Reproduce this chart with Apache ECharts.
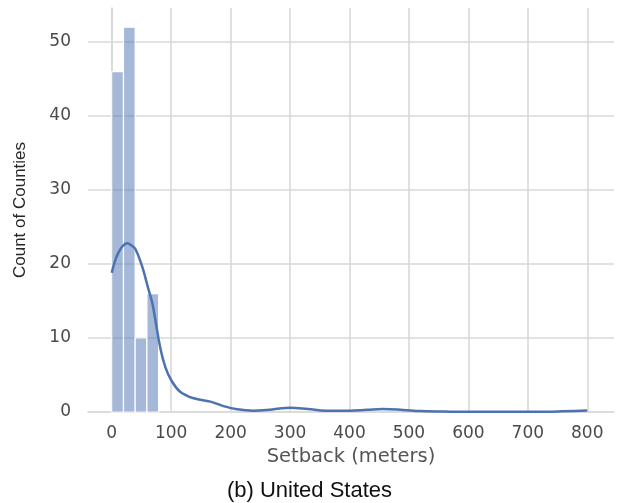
<!DOCTYPE html>
<html>
<head>
<meta charset="utf-8">
<script src="https://cdn.jsdelivr.net/npm/echarts@6/dist/echarts.min.js"></script>
<style>html,body{margin:0;padding:0;background:#fff;}#c{width:619px;height:503px;}</style>
</head>
<body>
<div id="c"></div>
<script>
// Histogram bins (meters) and counts
const binEdges = [0, 19.7, 39.4, 59.1, 78.8];
const binCounts = [46, 52, 10, 16];
// KDE curve points [setback, count]
const kdeX = [0, 5, 11, 18, 26, 33, 40, 51, 62, 68, 73, 82, 90, 100, 115, 138, 166, 188, 211, 238, 270, 300, 330, 360, 400, 430, 456, 490, 520, 570, 620, 680, 740, 780, 800];
const kdeY = [18.8, 20.3, 21.5, 22.4, 22.8, 22.5, 22.0, 19.7, 16.5, 14.8, 12.6, 8.5, 6.1, 4.3, 2.75, 1.85, 1.4, 0.8, 0.37, 0.18, 0.35, 0.58, 0.4, 0.17, 0.18, 0.3, 0.4, 0.28, 0.12, 0.05, 0.03, 0.03, 0.05, 0.12, 0.2];
const xTicks = [0, 100, 200, 300, 400, 500, 600, 700, 800];
const yTicks = [0, 10, 20, 30, 40, 50];

const histData = binCounts.map((c, i) => [binEdges[i], binEdges[i + 1], c]);
const kdeData = kdeX.map((x, i) => [x, kdeY[i]]);

const chart = echarts.init(document.getElementById('c'), null, {renderer: 'canvas'});
const gridColor = '#d9d9d9';
chart.setOption({
  animation: false,
  backgroundColor: '#ffffff',
  title: {
    text: '(b) United States',
    left: 'center',
    top: 475,
    textStyle: {fontFamily: 'Liberation Sans', fontSize: 22, fontWeight: 'normal', color: '#111'}
  },
  grid: {left: 88, right: 5, top: 8, bottom: 91, containLabel: false},
  xAxis: {
    type: 'value',
    min: -40, max: 845,
    name: 'Setback (meters)',
    nameLocation: 'middle',
    nameGap: 31,
    nameTextStyle: {fontFamily: 'DejaVu Sans', fontSize: 19.5, color: '#555'},
    axisLine: {show: true, lineStyle: {color: gridColor, width: 1.6}},
    axisTick: {show: false, customValues: xTicks},
    axisLabel: {customValues: xTicks, fontFamily: 'DejaVu Sans', fontSize: 17, color: '#4a4a4a', margin: 13},
    splitLine: {show: true, lineStyle: {color: gridColor, width: 1.6}}
  },
  yAxis: {
    type: 'value',
    min: 0, max: 54.6,
    name: 'Count of Counties',
    nameLocation: 'middle',
    nameGap: 59,
    nameTextStyle: {fontFamily: 'Liberation Sans', fontSize: 17, color: '#262626'},
    axisLine: {show: true, lineStyle: {color: gridColor, width: 1.6}},
    axisTick: {show: false, customValues: yTicks},
    axisLabel: {customValues: yTicks, fontFamily: 'DejaVu Sans', fontSize: 17, color: '#4a4a4a', margin: 17},
    splitLine: {show: true, lineStyle: {color: gridColor, width: 1.6}}
  },
  series: [
    {
      type: 'custom',
      data: histData,
      encode: {x: [0, 1], y: 2},
      renderItem: function (params, api) {
        const p0 = api.coord([api.value(0), api.value(2)]);
        const p1 = api.coord([api.value(1), 0]);
        return {
          type: 'rect',
          shape: {x: p0[0], y: p0[1], width: p1[0] - p0[0], height: p1[1] - p0[1]},
          style: {fill: 'rgba(76,114,176,0.5)', stroke: '#ffffff', lineWidth: 1.2}
        };
      },
      z: 2
    },
    {
      type: 'line',
      data: kdeData,
      smooth: 0.4,
      showSymbol: false,
      lineStyle: {color: '#4c72b0', width: 2.5},
      z: 3
    }
  ]
});
</script>
</body>
</html>
